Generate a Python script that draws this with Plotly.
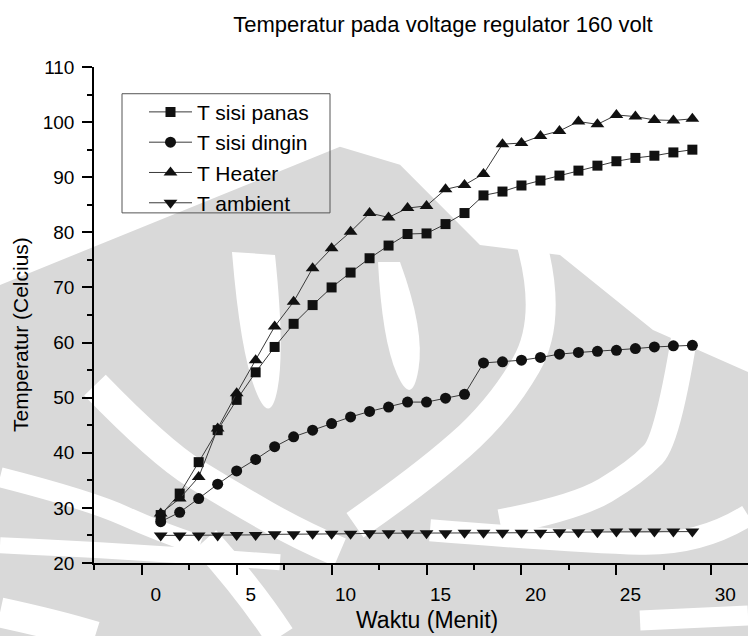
import plotly.graph_objects as go

# Measurement time (minutes)
minutes = list(range(1, 30))

# Temperatures (deg C) at a 160 V regulator setting
t_sisi_panas = [28.7, 32.6, 38.3, 44.1, 49.6, 54.6, 59.2, 63.4, 66.8, 70.0,
                72.7, 75.3, 77.6, 79.7, 79.8, 81.5, 83.5, 86.7, 87.4, 88.5,
                89.4, 90.3, 91.2, 92.1, 92.9, 93.5, 93.9, 94.5, 95.0]
t_sisi_dingin = [27.5, 29.2, 31.7, 34.3, 36.7, 38.8, 41.1, 42.9, 44.1, 45.3,
                 46.5, 47.5, 48.3, 49.2, 49.2, 49.9, 50.6, 56.3, 56.5, 56.8,
                 57.3, 57.9, 58.2, 58.4, 58.6, 58.9, 59.2, 59.4, 59.5]
t_heater = [29.0, 31.7, 35.6, 44.4, 50.8, 56.8, 62.9, 67.4, 73.5, 77.1,
            80.1, 83.5, 82.7, 84.4, 84.8, 87.8, 88.6, 90.6, 96.0, 96.2,
            97.5, 98.4, 100.1, 99.6, 101.3, 101.0, 100.4, 100.3, 100.6]
t_ambient = [25.0, 25.0, 25.0, 25.0, 25.1, 25.1, 25.2, 25.2, 25.3, 25.3,
             25.3, 25.4, 25.4, 25.4, 25.4, 25.4, 25.5, 25.5, 25.5, 25.5,
             25.5, 25.6, 25.6, 25.6, 25.7, 25.7, 25.7, 25.7, 25.7]

series_names = ["T sisi panas", "T sisi dingin", "T Heater", "T ambient"]
series_values = [t_sisi_panas, t_sisi_dingin, t_heater, t_ambient]
symbols = ["square", "circle", "triangle-up", "triangle-down"]
sizes = [10, 11, 12, 12]

x_ticks = [0, 5, 10, 15, 20, 25, 30]
y_ticks = [20, 30, 40, 50, 60, 70, 80, 90, 100, 110]

FONT = "Liberation Sans, Arial, sans-serif"

# Page / plot-area geometry (pixels)
W, H = 748, 636
L, T_TOP, B_AX = 94, 67.3, 562.7
PW, PH = W - L, B_AX - T_TOP


def px(x):
    return (x - L) / PW


def py(y):
    return (B_AX - y) / PH


def path(points, close=False, smooth=False):
    """SVG path in paper units from pixel points."""
    pts = [(px(x), py(y)) for x, y in points]
    if smooth and len(pts) >= 3:
        d = f"M{pts[0][0]:.4f},{pts[0][1]:.4f}"
        for i in range(1, len(pts) - 1):
            cx, cy = pts[i]
            nx, ny = pts[i + 1]
            mx, my = (cx + nx) / 2, (cy + ny) / 2
            if i == len(pts) - 2:
                mx, my = nx, ny
            d += f" Q{cx:.4f},{cy:.4f} {mx:.4f},{my:.4f}"
    else:
        d = "M" + " L".join(f"{x:.4f},{y:.4f}" for x, y in pts)
    return d + (" Z" if close else "")


GREY = "#d9d9d9"
shapes = []

# faint emblem in the background
shapes.append(dict(type="path", xref="paper", yref="paper", layer="below",
                   path=path([(0, 285), (340, 147), (400, 165), (480, 245),
                              (560, 255), (653, 330), (748, 372), (748, 636),
                              (0, 636)], close=True),
                   fillcolor=GREY, line=dict(width=0)))
white_bands = [
    ([(95, 385), (160, 452), (230, 495), (300, 535), (340, 552)], 30),
    ([(0, 477), (90, 500), (160, 532), (200, 545)], 20),
    ([(0, 545), (150, 552), (280, 562)], 16),
    ([(532, 245), (552, 320), (500, 410), (420, 480), (355, 525)], 30),
    ([(690, 300), (670, 437), (636, 472), (575, 508), (500, 522)], 26),
    ([(430, 530), (580, 542), (700, 545), (748, 515)], 22),
    ([(0, 612), (60, 625), (95, 636)], 30),
    ([(205, 540), (250, 590), (280, 636)], 30),
    ([(640, 620), (748, 615)], 20),
]
for pts, wdt in white_bands:
    shapes.append(dict(type="path", xref="paper", yref="paper", layer="below",
                       path=path(pts, smooth=True),
                       line=dict(color="white", width=wdt), fillcolor="rgba(0,0,0,0)"))
white_lenses = [
    [(232, 252), (240, 350), (270, 428), (285, 350), (275, 255)],
    [(378, 262), (382, 340), (412, 408), (425, 330), (400, 262)],
]
for pts in white_lenses:
    shapes.append(dict(type="path", xref="paper", yref="paper", layer="below",
                       path=path(pts, close=True, smooth=True),
                       fillcolor="white", line=dict(width=0)))

# legend frame
shapes.append(dict(type="rect", xref="paper", yref="paper", layer="above",
                   x0=px(122), x1=px(330), y0=py(94), y1=py(213),
                   line=dict(color="#555555", width=1), fillcolor="rgba(0,0,0,0)"))

fig = go.Figure()
for name, vals, sym, sz in zip(series_names, series_values, symbols, sizes):
    fig.add_trace(go.Scatter(
        x=minutes, y=vals, name=name, mode="lines+markers",
        line=dict(color="#3a3a3a", width=1),
        marker=dict(symbol=sym, size=sz, color="#111111", line=dict(width=0)),
    ))

axis_common = dict(showgrid=False, zeroline=False, showline=True,
                   linecolor="black", linewidth=1.5,
                   tickwidth=1.5, tickcolor="black", ticklen=10)

fig.update_layout(
    width=W, height=H,
    margin=dict(l=L, r=0, t=T_TOP, b=H - B_AX),
    paper_bgcolor="white", plot_bgcolor="rgba(0,0,0,0)",
    font=dict(family=FONT, color="black"),
    title=dict(text="Temperatur pada voltage regulator 160 volt",
               font=dict(size=22, family=FONT, color="black"),
               xref="container", yref="container",
               x=443 / W, y=1 - 24 / H, xanchor="center", yanchor="middle"),
    showlegend=True,
    legend=dict(
        x=px(144), y=py(92), xanchor="left", yanchor="top",
        bgcolor="rgba(0,0,0,0)", borderwidth=0,
        font=dict(size=21, family=FONT, color="black"),
        itemwidth=43, tracegroupgap=0,
    ),
    shapes=shapes,
    xaxis=dict(
        **axis_common,
        range=[-2.513, 31.93], tickvals=x_ticks, ticktext=[str(v) for v in x_ticks],
        ticks="outside",
        minor=dict(dtick=2.5, ticks="outside", ticklen=5, tickwidth=1.5, tickcolor="black"),
        tickfont=dict(size=19, family=FONT, color="black"),
        ticklabelshift=14, ticklabelstandoff=3,
    ),
    xaxis2=dict(
        **axis_common,
        overlaying="x", side="top", anchor="y", range=[0, 4.905], dtick=1,
        ticks="inside",
        minor=dict(dtick=0.5, ticks="inside", ticklen=5, tickwidth=1.5, tickcolor="black"),
        showticklabels=False,
    ),
    yaxis=dict(
        **axis_common,
        range=[20, 110], tickvals=y_ticks,
        ticks="outside",
        minor=dict(dtick=5, ticks="outside", ticklen=5, tickwidth=1.5, tickcolor="black"),
        tickfont=dict(size=19, family=FONT, color="black"),
        ticklabelstandoff=4,
    ),
    annotations=[
        dict(text="Waktu (Menit)", xref="paper", yref="paper",
             x=px(427), y=py(620),
             xanchor="center", yanchor="middle", showarrow=False,
             font=dict(size=23, family=FONT, color="black")),
        dict(text="Temperatur (Celcius)", xref="paper", yref="paper",
             x=px(20), y=py(335), textangle=-90,
             xanchor="center", yanchor="middle", showarrow=False,
             font=dict(size=21, family=FONT, color="black")),
    ],
)

fig.write_html("out.html")
